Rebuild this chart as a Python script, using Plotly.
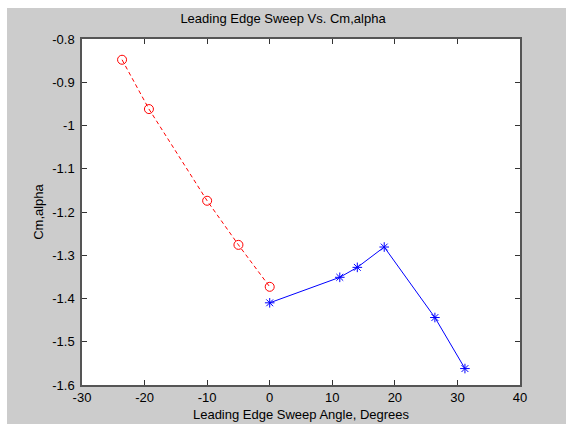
import plotly.graph_objects as go

# Forward-swept configurations (red, dashed)
sweep_fwd = [-23.6, -19.3, -10.0, -5.0, 0.0]
cma_fwd = [-0.848, -0.962, -1.174, -1.276, -1.373]

# Aft-swept configurations (blue, solid)
sweep_aft = [0.0, 11.2, 14.0, 18.3, 26.4, 31.2]
cma_aft = [-1.410, -1.351, -1.328, -1.281, -1.444, -1.562]

x_ticks = [-30, -20, -10, 0, 10, 20, 30, 40]
x_tick_text = ["-30", "-20", "-10", "0", "10", "20", "30", "40"]
y_ticks = [-0.8, -0.9, -1.0, -1.1, -1.2, -1.3, -1.4, -1.5, -1.6]
y_tick_text = ["-0.8", "-0.9", "-1", "-1.1", "-1.2", "-1.3", "-1.4", "-1.5", "-1.6"]

FONT = "Liberation Sans, Arial, sans-serif"
FS = 13
W, H = 566, 425
L, R, T, B = 82, 46, 39, 40

fig = go.Figure()
fig.add_trace(go.Scatter(
    x=sweep_fwd, y=cma_fwd, mode="lines+markers",
    line=dict(color="#ff0000", width=1, dash="4px,3px"),
    marker=dict(symbol="circle-open", size=9, color="#ff0000", line=dict(width=1)),
    showlegend=False, cliponaxis=False,
))
fig.add_trace(go.Scatter(
    x=sweep_aft, y=cma_aft, mode="lines+markers",
    line=dict(color="#0000ff", width=1),
    marker=dict(symbol="asterisk-open", size=8, color="#0000ff", line=dict(width=1, color="#0000ff")),
    showlegend=False, cliponaxis=False,
))

axis_common = dict(
    showgrid=False, zeroline=False, showline=True, linecolor="#555555", linewidth=1.5,
    mirror="ticks", ticks="inside", ticklen=5, tickcolor="#333333", tickwidth=1,
    tickfont=dict(family=FONT, size=FS, color="#000000"), fixedrange=True,
    automargin=False,
)
fig.update_xaxes(range=[-30, 40], tickvals=x_ticks, ticktext=x_tick_text,
                 title=dict(text="Leading Edge Sweep Angle, Degrees", standoff=6,
                            font=dict(family=FONT, size=FS, color="#000000")),
                 **axis_common)
fig.update_yaxes(range=[-1.6, -0.8], tickvals=y_ticks, ticktext=y_tick_text,
                 ticklabelstandoff=3,
                 title=dict(text="Cm,alpha", standoff=6,
                            font=dict(family=FONT, size=FS, color="#000000")),
                 **axis_common)

# thin white border around the gray figure window
white = dict(type="rect", xref="paper", yref="paper", fillcolor="#ffffff", line=dict(width=0), layer="below")
px = lambda v: (v - L) / (W - L - R)
py = lambda v: (H - B - v) / (H - T - B)
fig.add_shape(x0=px(-5), x1=px(W + 5), y0=py(8), y1=py(-5), **white)
fig.add_shape(x0=px(-5), x1=px(7), y0=py(H + 5), y1=py(-5), **white)
fig.add_shape(x0=px(-5), x1=px(W + 5), y0=py(H + 5), y1=py(424), **white)

fig.update_layout(
    width=W, height=H, margin=dict(l=L, r=R, t=T, b=B),
    paper_bgcolor="#cccccc", plot_bgcolor="#ffffff",
    title=dict(text="Leading Edge Sweep Vs. Cm,alpha", x=px(301), xanchor="center",
               y=1 - 18 / H, yanchor="middle", font=dict(family=FONT, size=FS, color="#000000")),
)

fig.write_html("out.html")
